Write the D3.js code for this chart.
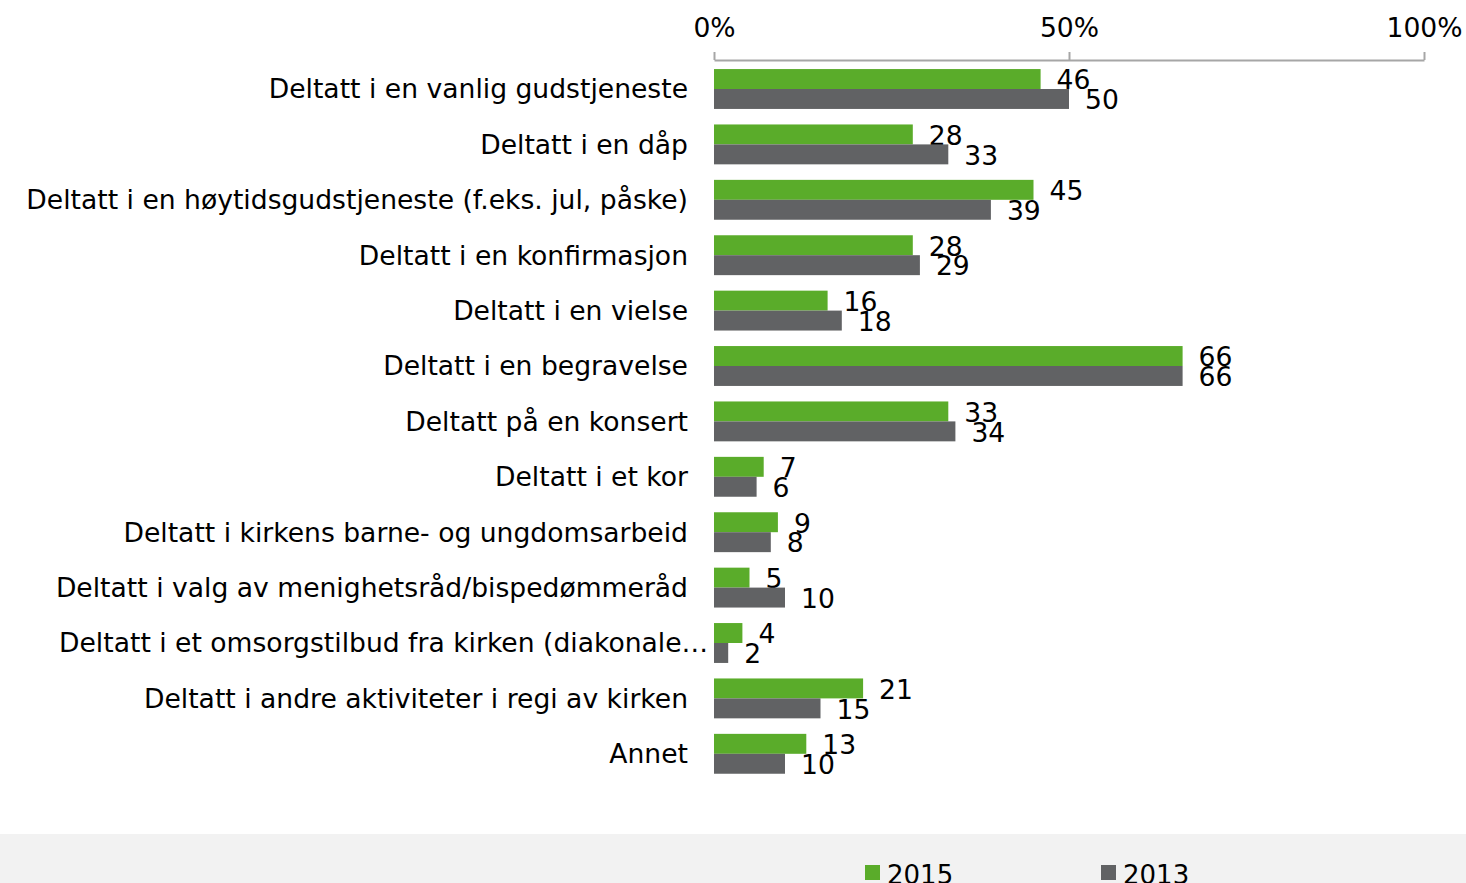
<!DOCTYPE html>
<html>
<head>
<meta charset="utf-8">
<script src="https://cdn.jsdelivr.net/npm/d3@7"></script>
<style>
  html, body { margin: 0; padding: 0; background: #ffffff; }
  svg { display: block; font-family: "DejaVu Sans", Verdana, sans-serif; }
</style>
</head>
<body>
<svg id="chart" width="1466" height="883"></svg>
<script>
// Activities (survey categories), top to bottom
const categories = [
  "Deltatt i en vanlig gudstjeneste",
  "Deltatt i en dåp",
  "Deltatt i en høytidsgudstjeneste (f.eks. jul, påske)",
  "Deltatt i en konfirmasjon",
  "Deltatt i en vielse",
  "Deltatt i en begravelse",
  "Deltatt på en konsert",
  "Deltatt i et kor",
  "Deltatt i kirkens barne- og ungdomsarbeid",
  "Deltatt i valg av menighetsråd/bispedømmeråd",
  "Deltatt i et omsorgstilbud fra kirken (diakonale…",
  "Deltatt i andre aktiviteter i regi av kirken",
  "Annet"
];
const values2015 = [46, 28, 45, 28, 16, 66, 33, 7, 9, 5, 4, 21, 13];
const values2013 = [50, 33, 39, 29, 18, 66, 34, 6, 8, 10, 2, 15, 10];
const seriesNames = ["2015", "2013"];
const seriesColors = ["#5aac2a", "#616264"];
const axisTicks = [0, 50, 100];

const svg = d3.select("#chart");
const W = 1466, H = 883;
const FS = 26.6;

const x = d3.scaleLinear().domain([0, 100]).range([714, 1424]);
const y = d3.scaleBand().domain(categories).range([61.3, 781.5]).paddingInner(0.28).paddingOuter(0.14);
const sub = d3.scaleBand().domain(seriesNames).range([0, y.bandwidth()]);

// Top percentage axis
const axisG = svg.append("g").attr("transform", "translate(0,60)");
axisG.call(d3.axisTop(x).tickValues(axisTicks).tickFormat(d => d + "%").tickSize(8).tickSizeOuter(0).tickPadding(15));
axisG.select(".domain").attr("stroke", "#a6a6a6").attr("stroke-width", 2);
axisG.selectAll(".tick line").attr("stroke", "#a6a6a6").attr("stroke-width", 2);
axisG.selectAll(".tick text")
  .attr("fill", "#000").attr("font-size", FS).attr("font-family", "DejaVu Sans, sans-serif");

// Category labels (a truncated label starts at the left margin and runs up to the bars)
svg.append("g").selectAll("text").data(categories).join("text")
  .attr("x", d => d.endsWith("…") ? 59 : 688)
  .attr("text-anchor", d => d.endsWith("…") ? "start" : "end")
  .attr("y", d => y(d) + y.bandwidth() / 2)
  .attr("dy", "0.35em")
  .attr("font-size", FS)
  .attr("fill", "#000")
  .text(d => d);

// Bars and value labels
const series = [values2015, values2013];
series.forEach((vals, si) => {
  const name = seriesNames[si];
  const g = svg.append("g");
  g.selectAll("rect").data(vals).join("rect")
    .attr("x", x(0))
    .attr("y", (v, i) => y(categories[i]) + sub(name))
    .attr("width", v => x(v) - x(0))
    .attr("height", sub.bandwidth())
    .attr("fill", seriesColors[si]);
  g.selectAll("text").data(vals).join("text")
    .attr("x", v => x(v) + 16)
    .attr("y", (v, i) => y(categories[i]) + sub(name) + sub.bandwidth() / 2 + 1)
    .attr("dy", "0.35em")
    .attr("font-size", FS)
    .attr("fill", "#000")
    .text(v => v);
});

// Legend band
svg.append("rect").attr("x", 0).attr("y", 834).attr("width", W).attr("height", H - 834).attr("fill", "#f2f2f2");
const legendX = [865, 1101];
const leg = svg.append("g").selectAll("g").data(seriesNames).join("g")
  .attr("transform", (d, i) => `translate(${legendX[i]},865)`);
leg.append("rect").attr("width", 15).attr("height", 15).attr("fill", (d, i) => seriesColors[i]);
leg.append("text").attr("x", 22).attr("y", 19).attr("font-size", 26)
  .attr("fill", "#000").text(d => d);
</script>
</body>
</html>
